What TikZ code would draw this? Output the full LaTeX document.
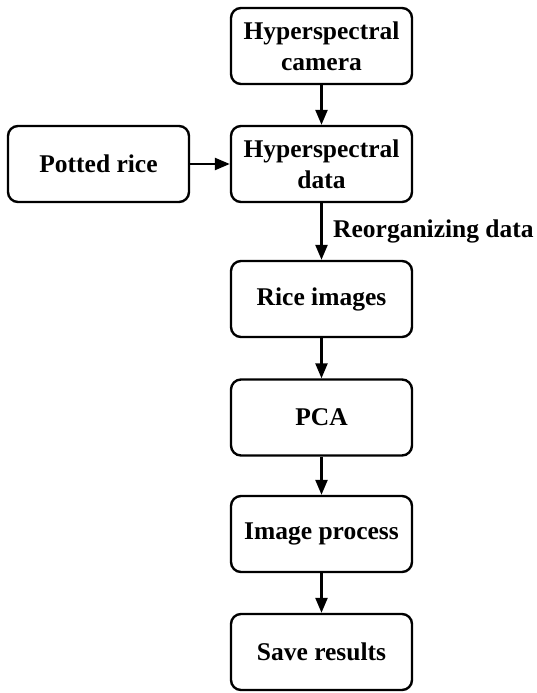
\documentclass[tikz,border=0pt]{standalone}
\usepackage{fontspec}
\setmainfont{Liberation Serif}
\usetikzlibrary{arrows.meta}
\begin{document}
\begin{tikzpicture}[x=1pt,y=-1pt,
 box/.style={draw, line width=2.4pt, rounded corners=10pt, minimum width=181pt, minimum height=76pt, align=center, font=\fontsize{25.5}{31}\selectfont\bfseries, inner sep=0pt},
 arr/.style={line width=2.4pt, -{Triangle[length=15pt,width=12pt]}},
 lbl/.style={font=\fontsize{25.5}{31}\selectfont\bfseries, inner sep=0pt}]
\useasboundingbox (0,0) rectangle (537,693);
\node[box] (cam) at (321.5,46) {Hyperspectral\\camera};
\node[box] (data) at (321.5,164) {Hyperspectral\\data};
\node[box] (pot) at (98.5,164) {Potted rice};
\node[box] (rice) at (321.5,299) {Rice images};
\node[box] (pca) at (321.5,417.5) {PCA};
\node[box] (ip) at (321.5,534) {Image process};
\node[box] (save) at (321.5,652) {Save results};
\draw[arr] (cam) -- (data);
\draw[arr] (pot) -- (data);
\draw[arr] (data) -- (rice);
\draw[arr] (rice) -- (pca);
\draw[arr] (pca) -- (ip);
\draw[arr] (ip) -- (save);
\node[lbl, anchor=base west] (reorg) at (333,237) {Reorganizing data};
\end{tikzpicture}
\end{document}
